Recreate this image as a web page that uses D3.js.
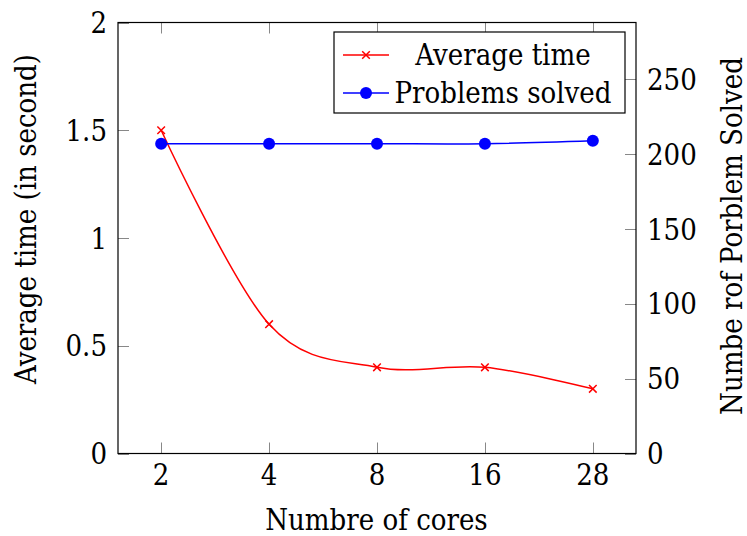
<!DOCTYPE html>
<html>
<head>
<meta charset="utf-8">
<script src="https://cdn.jsdelivr.net/npm/d3@7"></script>
<style>
  body { margin: 0; background: #fff; }
  text { font-family: "DejaVu Serif Condensed", "DejaVu Serif", serif; font-stretch: semi-condensed; fill: #000; }
</style>
</head>
<body>
<svg id="chart" width="747" height="536"></svg>
<script>
// data
let cores = ["2", "4", "8", "16", "28"];
let avgTime = [1.5, 0.6, 0.4, 0.4, 0.3];
let solved = [207, 207, 207, 207, 209];
let leftTicks = [0, 0.5, 1, 1.5, 2];
let rightTicks = [0, 50, 100, 150, 200, 250];

let plotL = 118, plotR = 636, plotT = 22.5, plotB = 453.5;
let fs = 29;

let svg = d3.select("#chart");

let x = d3.scalePoint().domain(cores).range([plotL, plotR]).padding(0.4);
let yL = d3.scaleLinear().domain([0, 2]).range([plotB, plotT]);
let yR = d3.scaleLinear().domain([0, 288]).range([plotB, plotT]);

let tickLen = 11;
let grey = "#888";

// tick marks (inside)
let ticks = svg.append("g").attr("stroke", grey).attr("stroke-width", 1);
cores.forEach(function(c) {
    let px = Math.round(x(c)) + 0.5;
    ticks.append("line").attr("x1", px).attr("x2", px).attr("y1", plotB).attr("y2", plotB - tickLen);
    ticks.append("line").attr("x1", px).attr("x2", px).attr("y1", plotT).attr("y2", plotT + tickLen);
});
leftTicks.forEach(function(t) {
    let py = Math.round(yL(t)) + 0.5;
    ticks.append("line").attr("x1", plotL).attr("x2", plotL + tickLen).attr("y1", py).attr("y2", py);
});
rightTicks.forEach(function(t) {
    let py = Math.round(yR(t)) + 0.5;
    ticks.append("line").attr("x1", plotR).attr("x2", plotR - tickLen).attr("y1", py).attr("y2", py);
});

// frame
svg.append("rect")
    .attr("x", plotL).attr("y", plotT)
    .attr("width", plotR - plotL).attr("height", plotB - plotT)
    .attr("fill", "none").attr("stroke", "#000").attr("stroke-width", 1.2);

// tick labels
svg.append("g").selectAll("text").data(cores).enter().append("text")
    .attr("x", d => x(d)).attr("y", 485)
    .attr("text-anchor", "middle").attr("font-size", fs)
    .text(d => d);
svg.append("g").selectAll("text").data(leftTicks).enter().append("text")
    .attr("x", 107).attr("y", d => yL(d) + 10.5)
    .attr("text-anchor", "end").attr("font-size", fs)
    .text(d => d);
svg.append("g").selectAll("text").data(rightTicks).enter().append("text")
    .attr("x", 647).attr("y", d => yR(d) + 10.5)
    .attr("text-anchor", "start").attr("font-size", fs)
    .text(d => d);

// axis titles
svg.append("text").attr("x", (plotL + plotR) / 2 - 0.5).attr("y", 529.5)
    .attr("text-anchor", "middle").attr("font-size", fs)
    .text("Numbre of cores");
svg.append("text").attr("transform", "translate(36,219) rotate(-90)")
    .attr("text-anchor", "middle").attr("font-size", fs)
    .text("Average time (in second)");
svg.append("text").attr("transform", "translate(741.5,236) rotate(-90)")
    .attr("text-anchor", "middle").attr("font-size", fs)
    .text("Numbe rof Porblem Solved");

// lines
let lineL = d3.line().x((d, i) => x(cores[i])).y(d => yL(d)).curve(d3.curveCardinal.tension(0));
let lineR = d3.line().x((d, i) => x(cores[i])).y(d => yR(d)).curve(d3.curveCardinal.tension(0));

svg.append("path").datum(avgTime).attr("d", lineL)
    .attr("fill", "none").attr("stroke", "#ff0000").attr("stroke-width", 1.5);
svg.append("path").datum(solved).attr("d", lineR)
    .attr("fill", "none").attr("stroke", "#0000ff").attr("stroke-width", 1.5);

function cross(g, cx, cy, s) {
    g.append("path")
        .attr("d", `M${cx - s},${cy - s}L${cx + s},${cy + s}M${cx - s},${cy + s}L${cx + s},${cy - s}`)
        .attr("stroke", "#ff0000").attr("stroke-width", 1.5).attr("fill", "none");
}

let marks = svg.append("g");
avgTime.forEach(function(v, i) { cross(marks, x(cores[i]), yL(v), 3.8); });
marks.selectAll("circle").data(solved).enter().append("circle")
    .attr("cx", (d, i) => x(cores[i])).attr("cy", d => yR(d)).attr("r", 6)
    .attr("fill", "#0000ff");

// legend
let lg = svg.append("g");
lg.append("rect").attr("x", 334).attr("y", 32).attr("width", 291).attr("height", 81)
    .attr("fill", "#fff").attr("stroke", "#000").attr("stroke-width", 1.2);
let legendItems = [
    { name: "Average time", color: "#ff0000", y: 55 },
    { name: "Problems solved", color: "#0000ff", y: 93 }
];
legendItems.forEach(function(d, i) {
    lg.append("line").attr("x1", 343).attr("x2", 389).attr("y1", d.y).attr("y2", d.y)
        .attr("stroke", d.color).attr("stroke-width", 1.5);
    if (i == 0) cross(lg, 366, d.y, 3.8);
    else lg.append("circle").attr("cx", 366).attr("cy", d.y).attr("r", 6).attr("fill", d.color);
    lg.append("text").attr("x", 503).attr("y", d.y + 10)
        .attr("text-anchor", "middle").attr("font-size", fs)
        .text(d.name);
});
</script>
</body>
</html>
